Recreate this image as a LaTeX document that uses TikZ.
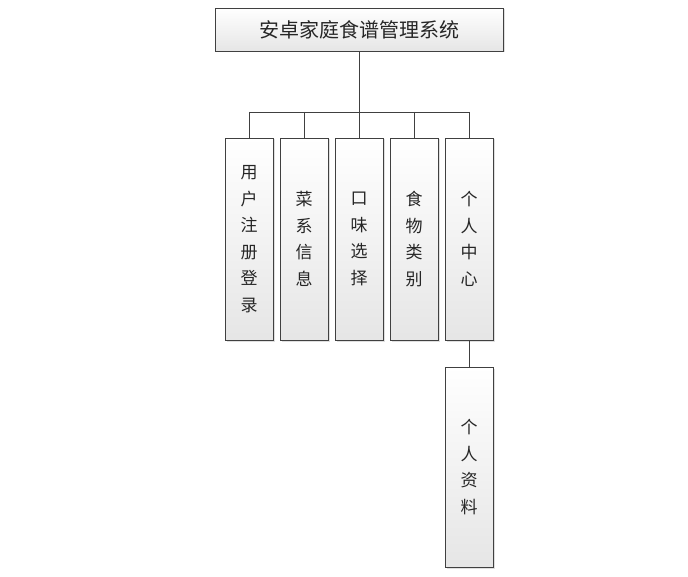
\documentclass[tikz,border=0pt]{standalone}
\usepackage{fontspec}
\setmainfont{Noto Sans CJK SC}
\usetikzlibrary{shadows}
\tikzset{
	box/.style={draw=black!75,line width=0.9pt,top color=white,bottom color=black!10,
		drop shadow={shadow xshift=1.5pt,shadow yshift=-1.5pt,opacity=0.25},
		inner sep=0pt,align=center,text=black!85,font=\fontsize{17}{26.5}\selectfont},
	titlebox/.style={box,minimum width=288pt,minimum height=43pt,font=\fontsize{20}{24}\selectfont},
	modbox/.style={box,minimum width=48pt,minimum height=202pt},
	link/.style={draw=black!75,line width=0.9pt}
}
\begin{document}
\begin{tikzpicture}[x=1pt,y=-1pt]
\useasboundingbox (0,0) rectangle (688,577);
\node[titlebox] (sys) at (359,29.5) {安卓家庭食谱管理系统};
\node[modbox] (m1) at (249,239) {用\\户\\注\\册\\登\\录};
\node[modbox] (m2) at (304,239) {菜\\系\\信\\息};
\node[modbox] (m3) at (359,239) {口\\味\\选\\择};
\node[modbox] (m4) at (414,239) {食\\物\\类\\别};
\node[modbox] (m5) at (469,239) {个\\人\\中\\心};
\node[modbox,minimum height=200pt] (sub) at (469,467) {个\\人\\资\\料};
\coordinate (bus) at (359,112);
\draw[link] (sys.south) -- (bus);
\draw[link] (bus -| m1.north) -- (bus -| m5.north);
\foreach \m in {m1,m2,m3,m4,m5}
	\draw[link] (bus -| \m.north) -- (\m.north);
\draw[link] (m5.south) -- (sub.north);
\end{tikzpicture}
\end{document}
